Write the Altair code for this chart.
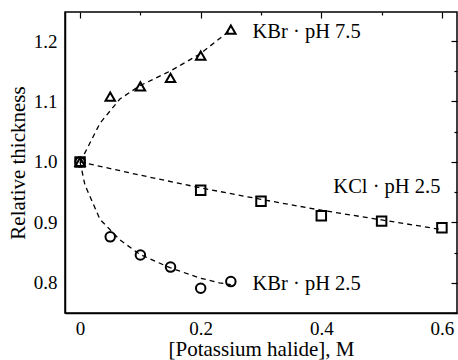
import altair as alt
import pandas as pd

# measured points
kbr75_x = [0, 0.05, 0.10, 0.15, 0.20, 0.25]
kbr75_y = [1.000, 1.108, 1.125, 1.139, 1.176, 1.219]
kcl_x = [0, 0.2, 0.3, 0.4, 0.5, 0.6]
kcl_y = [1.000, 0.953, 0.935, 0.911, 0.902, 0.891]
kbr25_x = [0, 0.05, 0.10, 0.15, 0.20, 0.25]
kbr25_y = [1.000, 0.876, 0.846, 0.826, 0.791, 0.802]

# fitted dashed curves
fit75_x = [0, 0.008, 0.033, 0.066, 0.099, 0.149, 0.198, 0.243, 0.25]
fit75_y = [1.000, 1.015, 1.064, 1.104, 1.126, 1.150, 1.178, 1.213, 1.218]
fitcl_x = [0, 0.1, 0.2, 0.3, 0.4, 0.5, 0.6]
fitcl_y = [1.000, 0.978, 0.957, 0.938, 0.920, 0.904, 0.888]
fit25_x = [0, 0.008, 0.033, 0.066, 0.099, 0.149, 0.198, 0.231, 0.25]
fit25_y = [1.000, 0.962, 0.905, 0.871, 0.847, 0.825, 0.808, 0.800, 0.797]

labels = ["KBr · pH 7.5", "KCl · pH 2.5", "KBr · pH 2.5"]
label_x = [0.286, 0.420, 0.286]
label_y = [1.215, 0.959, 0.798]

FONT = "Liberation Serif"
common = dict(labelFont=FONT, labelFontSize=19, labelColor="black",
              titleFont=FONT, titleFontSize=21, titleFontWeight="normal", titleColor="black")

pts = pd.DataFrame(
    {"x": kbr75_x + kcl_x + kbr25_x,
     "y": kbr75_y + kcl_y + kbr25_y,
     "s": ["a"] * 6 + ["b"] * 6 + ["c"] * 6}
)
fits = pd.DataFrame(
    {"x": fit75_x + fitcl_x + fit25_x,
     "y": fit75_y + fitcl_y + fit25_y,
     "s": ["a"] * len(fit75_x) + ["b"] * len(fitcl_x) + ["c"] * len(fit25_x),
     "o": list(range(len(fit75_x))) + list(range(len(fitcl_x))) + list(range(len(fit25_x)))}
)
lab = pd.DataFrame({"t": labels, "x": label_x, "y": label_y})

xs = alt.Scale(domain=[-0.025, 0.625], nice=False, zero=False)
ys = alt.Scale(domain=[0.75, 1.248], nice=False, zero=False)

xaxis = alt.Axis(values=[0, 0.2, 0.4, 0.6], format="~g", title="[Potassium halide], M",
                 ticks=False, grid=False, labelPadding=6, titlePadding=0,
                 domainColor="black", domainWidth=1.5, **common)
yaxis = alt.Axis(values=[0.8, 0.9, 1.0, 1.1, 1.2], format=".1f", title="Relative thickness",
                 ticks=False, grid=False, labelPadding=8, titlePadding=5,
                 domainColor="black", domainWidth=1.5, **common)

line = alt.Chart(fits).mark_line(color="black", strokeDash=[5, 4], strokeWidth=1.3).encode(
    x=alt.X("x:Q", scale=xs, axis=xaxis),
    y=alt.Y("y:Q", scale=ys, axis=yaxis),
    detail="s:N",
    order="o:Q",
)

pointsl = alt.Chart(pts).mark_point(filled=False, color="black", strokeWidth=2, size=90, opacity=1).encode(
    x=alt.X("x:Q", scale=xs, axis=None),
    y=alt.Y("y:Q", scale=ys, axis=None),
    shape=alt.Shape("s:N", scale=alt.Scale(domain=["a", "b", "c"],
                                           range=["triangle-up", "square", "circle"]), legend=None),
)

text = alt.Chart(lab).mark_text(font=FONT, fontSize=20.5, align="left", baseline="middle", color="black").encode(
    x=alt.X("x:Q", scale=xs, axis=None),
    y=alt.Y("y:Q", scale=ys, axis=None),
    text="t:N",
)

def tick_axis(vals, size):
    return alt.Axis(values=vals, labels=False, title=None, domain=False, grid=False,
                    tickSize=size, offset=-size, tickColor="black", tickWidth=1.2, **common)

major_x = alt.Chart(pts).mark_point(opacity=0).encode(
    x=alt.X("x:Q", scale=xs, axis=tick_axis([0, 0.2, 0.4, 0.6], 6)))
minor_x = alt.Chart(pts).mark_point(opacity=0).encode(
    x=alt.X("x:Q", scale=xs, axis=tick_axis([0.1, 0.3, 0.5], 3)))
major_y = alt.Chart(pts).mark_point(opacity=0).encode(
    y=alt.Y("y:Q", scale=ys, axis=tick_axis([0.8, 0.9, 1.0, 1.1, 1.2], 6)))
minor_y = alt.Chart(pts).mark_point(opacity=0).encode(
    y=alt.Y("y:Q", scale=ys, axis=tick_axis([0.75, 0.85, 0.95, 1.05, 1.15], 3)))

chart = alt.layer(line, pointsl, text, major_x, minor_x, major_y, minor_y).resolve_axis(
    x="independent", y="independent"
).properties(
    width=392, height=301,
    padding={"left": 65, "top": 12, "right": 1, "bottom": 47},
    autosize=alt.AutoSizeParams(type="none"),
    background="white",
).configure_view(stroke="black", strokeWidth=1.5).configure_axis(**common).configure_axisX(**common).configure_axisY(**common)

chart.save("out.html", embed_options={"renderer": "svg", "actions": False})
